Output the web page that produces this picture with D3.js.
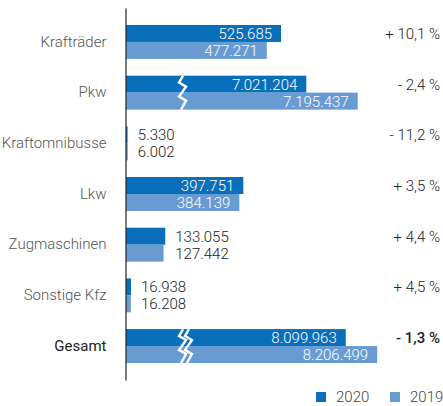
<!DOCTYPE html>
<html lang="de">
<head>
  <meta charset="UTF-8">
  <title>Kfz-Bestand</title>
  <script src="https://cdn.jsdelivr.net/npm/d3@7"></script>
  <style>
    body { margin: 0; background: #fff; }
    text { font-family: Roboto, "Open Sans", sans-serif; }
  </style>
</head>
<body>
  <div id="chart"></div>
  <script>
    // data
    const categories = ["Krafträder", "Pkw", "Kraftomnibusse", "Lkw", "Zugmaschinen", "Sonstige Kfz", "Gesamt"];
    const values2020 = [525685, 7021204, 5330, 397751, 133055, 16938, 8099963];
    const values2019 = [477271, 7195437, 6002, 384139, 127442, 16208, 8206499];
    const changes = ["+ 10,1 %", "- 2,4 %", "- 11,2 %", "+ 3,5 %", "+ 4,4 %", "+ 4,5 %", "- 1,3 %"];
    // amount cut out of the broken bars (0 = not broken)
    const cutAway = [0, 6410000, 0, 0, 0, 0, 7355000];
    const years = ["2020", "2019"];

    const colors = { "2020": "#0a6fba", "2019": "#699bd3" };
    const W = 443, H = 406;
    const FS = "15px";

    const de = d3.formatLocale({ decimal: ",", thousands: ".", grouping: [3], currency: ["", " €"] });
    const fmt = de.format(",");

    const rows = categories.map((c, i) => ({
      cat: c,
      cut: cutAway[i],
      change: changes[i],
      vals: [
        { year: "2020", v: values2020[i] },
        { year: "2019", v: values2019[i] }
      ]
    }));

    const svg = d3.select("#chart").append("svg")
      .attr("width", W)
      .attr("height", H);

    const x = d3.scaleLinear().domain([0, 1000000]).range([126, 421]);

    const y = d3.scaleBand()
      .domain(categories)
      .range([8, 380])
      .paddingInner(0.33)
      .paddingOuter(0.335);

    const yy = d3.scaleBand().domain(years).range([0, y.bandwidth()]);

    const g = svg.selectAll("g.row")
      .data(rows)
      .join("g")
        .attr("class", "row")
        .attr("transform", d => `translate(0,${y(d.cat)})`);

    // bars
    g.selectAll("rect")
      .data(d => d.vals.map(o => ({ ...o, cut: d.cut })))
      .join("rect")
        .attr("x", x(0))
        .attr("y", d => yy(d.year))
        .attr("width", d => x(d.v - d.cut) - x(0))
        .attr("height", yy.bandwidth())
        .attr("fill", d => colors[d.year]);

    // break marks
    const zig = [[1, 0], [-3, 7], [4, 11], [-3, 21], [4, 25], [-1, 34]];
    const zigLine = d3.line()
      .x(p => p[0])
      .y(p => p[1]);
    g.filter(d => d.cut > 0).each(function(d) {
      const gg = d3.select(this);
      const offsets = d.cat === "Gesamt" ? [x(190000), x(210000)] : [x(190000)];
      offsets.forEach(ox => {
        gg.append("path")
          .attr("d", zigLine(zig.map(p => [ox + p[0], p[1] * y.bandwidth() / 34])))
          .attr("fill", "none")
          .attr("stroke", "#fff")
          .attr("stroke-width", 2.4)
          .attr("stroke-linejoin", "miter");
      });
    });

    // value labels
    g.each(function(d) {
      const gg = d3.select(this);
      const ends = d.vals.map(o => x(o.v - d.cut));
      const inside = d3.min(ends) - x(0) > 80;
      const outX = d3.max(ends) + 10;
      gg.selectAll("text.val")
        .data(d.vals)
        .join("text")
          .attr("class", "val")
          .attr("x", (o, i) => inside ? ends[i] - 9 : outX)
          .attr("y", o => yy(o.year) + yy.bandwidth() / 2)
          .attr("dy", "0.36em")
          .attr("text-anchor", inside ? "end" : "start")
          .attr("fill", inside ? "#fff" : "#222")
          .style("font-size", FS)
          .style("font-weight", 300)
          .text(o => fmt(o.v));
    });

    // change labels
    g.append("text")
      .attr("x", 440)
      .attr("y", yy("2020") + yy.bandwidth() / 2)
      .attr("dy", "0.36em")
      .attr("text-anchor", "end")
      .attr("fill", "#222")
      .style("font-size", FS)
      .style("font-weight", d => d.cat === "Gesamt" ? 500 : 300)
      .text(d => d.change);

    // category axis
    const axis = svg.append("g")
      .attr("transform", `translate(${x(0) - 0.5},0)`)
      .call(d3.axisLeft(y).tickSize(0).tickPadding(19));
    axis.select(".domain").attr("stroke", "#222").attr("stroke-width", 1.2);
    axis.selectAll(".tick text")
      .style("font-size", FS)
      .style("font-family", "Roboto, sans-serif")
      .style("font-weight", d => d === "Gesamt" ? 400 : 300)
      .attr("fill", d => d === "Gesamt" ? "#222" : "#555");

    // legend
    const legend = svg.append("g")
      .selectAll("g")
      .data(years)
      .join("g")
        .attr("transform", (d, i) => `translate(${[316, 390][i]},392)`);
    legend.append("rect")
      .attr("width", 10)
      .attr("height", 10)
      .attr("fill", d => colors[d]);
    legend.append("text")
      .attr("x", 20)
      .attr("y", 5)
      .attr("dy", "0.36em")
      .attr("fill", "#444")
      .style("font-size", FS)
      .style("font-weight", 300)
      .text(d => d);
  </script>
</body>
</html>
